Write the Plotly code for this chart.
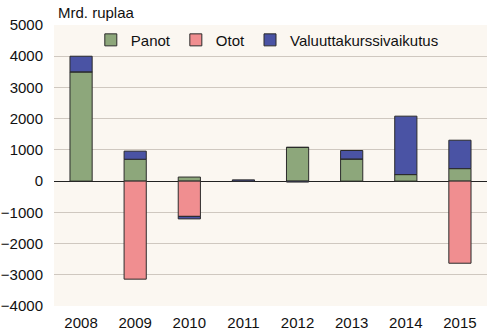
import plotly.graph_objects as go

years = ["2008", "2009", "2010", "2011", "2012", "2013", "2014", "2015"]
panot = [3500, 700, 130, 0, 1080, 710, 210, 400]
otot = [0, -3140, -1130, 0, 0, 0, 0, -2630]
valuutta = [500, 260, -80, 40, -30, 270, 1870, 910]
y_ticks = [-4000, -3000, -2000, -1000, 0, 1000, 2000, 3000, 4000, 5000]

line = dict(color="#2b2b2b", width=1)
fig = go.Figure()
fig.add_bar(x=years, y=panot, name="Panot", marker=dict(color="#8DA77B", line=line))
fig.add_bar(x=years, y=otot, name="Otot", marker=dict(color="#F08E90", line=line))
fig.add_bar(x=years, y=valuutta, name="Valuuttakurssivaikutus", marker=dict(color="#4A53A4", line=line))

fig.update_layout(
    width=488, height=335,
    margin=dict(l=54, r=1, t=25, b=29),
    barmode="relative", bargap=0.59,
    paper_bgcolor="white", plot_bgcolor="#FBF7F1",
    font=dict(family="Liberation Sans, Arial", size=15, color="#111"),
    showlegend=True,
    legend=dict(orientation="h", x=0.085, y=1.005, xanchor="left", yanchor="top",
                bgcolor="rgba(0,0,0,0)", font=dict(size=15), traceorder="normal",
                itemwidth=30),
    annotations=[dict(text="Mrd. ruplaa", xref="paper", yref="paper", x=0.0, y=1.0,
                      xanchor="left", yanchor="bottom", showarrow=False,
                      font=dict(size=15), xshift=2, yshift=2)],
)
fig.update_yaxes(range=[-4000, 5000], tickvals=y_ticks, showgrid=True, gridcolor="#CFC8C0",
                 gridwidth=1, zeroline=True, zerolinecolor="#222", zerolinewidth=1,
                 showline=False, ticks="", ticklabelstandoff=10)
fig.update_xaxes(showgrid=False, showline=False, ticks="", ticklabelstandoff=6)

fig.write_html("out.html")
